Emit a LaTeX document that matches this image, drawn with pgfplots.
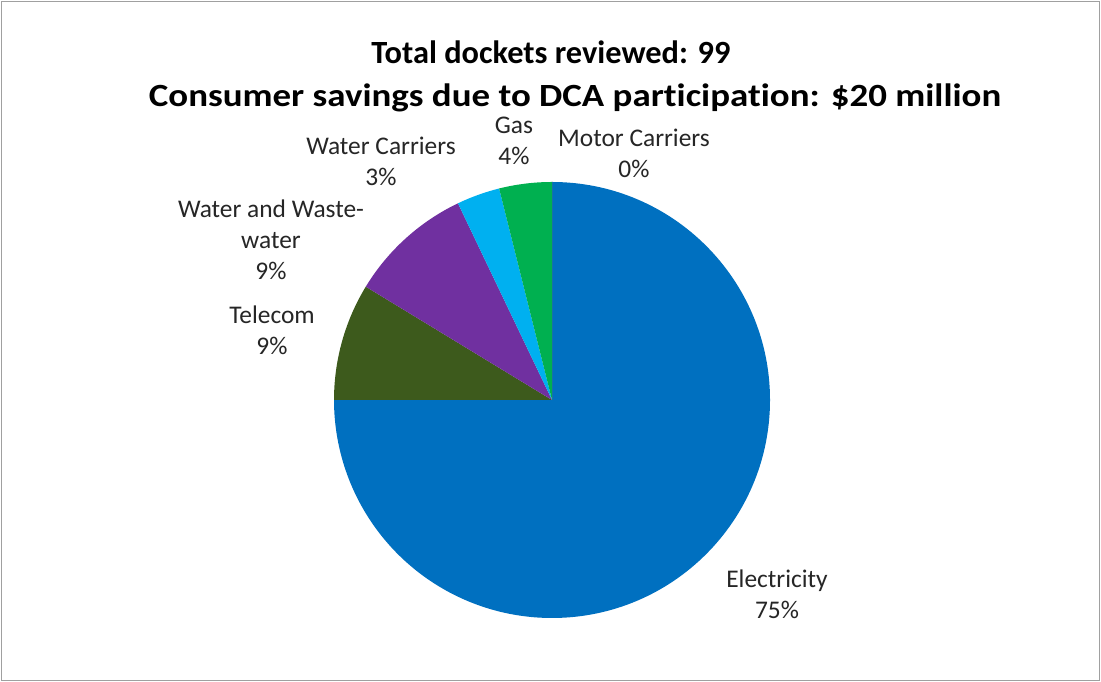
\documentclass[border=0pt]{standalone}
\usepackage{pgfplots}
\usepackage{pgfplotstable}
\usepackage{graphicx}
\pgfplotsset{compat=1.18}
\usepackage{fontspec}
\setmainfont{Carlito}[Ligatures=NoCommon]
\definecolor{cElec}{HTML}{0070C0}
\definecolor{cTel}{HTML}{3D5A1C}
\definecolor{cWat}{HTML}{7030A0}
\definecolor{cWC}{HTML}{00B0F0}
\definecolor{cGas}{HTML}{00B050}
\definecolor{cMot}{HTML}{C0504D}
\definecolor{frame}{HTML}{A0A0A0}
\definecolor{txt}{HTML}{262626}
\pgfplotstableread{
label value color
Electricity 75.0 cElec
Telecom 8.7 cTel
WaterWastewater 9.2 cWat
WaterCarriers 3.2 cWC
Gas 3.9 cGas
MotorCarriers 0.0 cMot
}\piedata
\begin{document}
\begin{tikzpicture}[x=1bp,y=1bp]
\useasboundingbox (0,0) rectangle (1101,682);
\fill[white] (0,0) rectangle (1101,682);
\draw[frame,line width=1.2bp] (1.5,1.5) rectangle (1099.5,680.5);
\begin{axis}[at={(552bp,282bp)}, anchor=center, x=218bp, y=218bp,
  xmin=-1, xmax=1, ymin=-1, ymax=1, hide axis, clip=false]
\addplot[draw=none] coordinates {(0,0)};
\pgfmathsetmacro\cum{0}
\pgfplotsforeachungrouped \i in {0,...,5}{%
  \pgfplotstablegetelem{\i}{value}\of\piedata \let\v\pgfplotsretval
  \pgfplotstablegetelem{\i}{color}\of\piedata \let\c\pgfplotsretval
  \pgfmathsetmacro\a{90-3.6*\cum}%
  \pgfmathsetmacro\b{90-3.6*(\cum+\v)}%
  \edef\temp{\noexpand\fill[\c] (axis cs:0,0) -- ++(\a:218bp) arc[start angle=\a, end angle=\b, radius=218bp] -- cycle;}%
  \temp
  \pgfmathsetmacro\cum{\cum+\v}%
}
\end{axis}
% title
\node[font=\fontsize{32.5}{39}\selectfont\bfseries, text=black] at (551,682-52) {Total dockets reviewed: 99};
\node[font=\fontsize{32.5}{39}\selectfont\bfseries, text=black] at (575,682-98) {\scalebox{1.14}[1]{Consumer savings due to DCA participation: \$20 million}};
% labels
\begin{scope}[every node/.style={font=\fontsize{25.5}{31}\selectfont, text=txt, align=center}]
\node at (514,682-141) {Gas\\4\%};
\node at (634,682-153) {Motor Carriers\\0\%};
\node at (381,682-161) {Water Carriers\\3\%};
\node at (271,682-240) {Water and Waste-\\water\\9\%};
\node at (272,682-330) {Telecom\\9\%};
\node at (777,682-594) {Electricity\\75\%};
\end{scope}
\end{tikzpicture}
\end{document}
